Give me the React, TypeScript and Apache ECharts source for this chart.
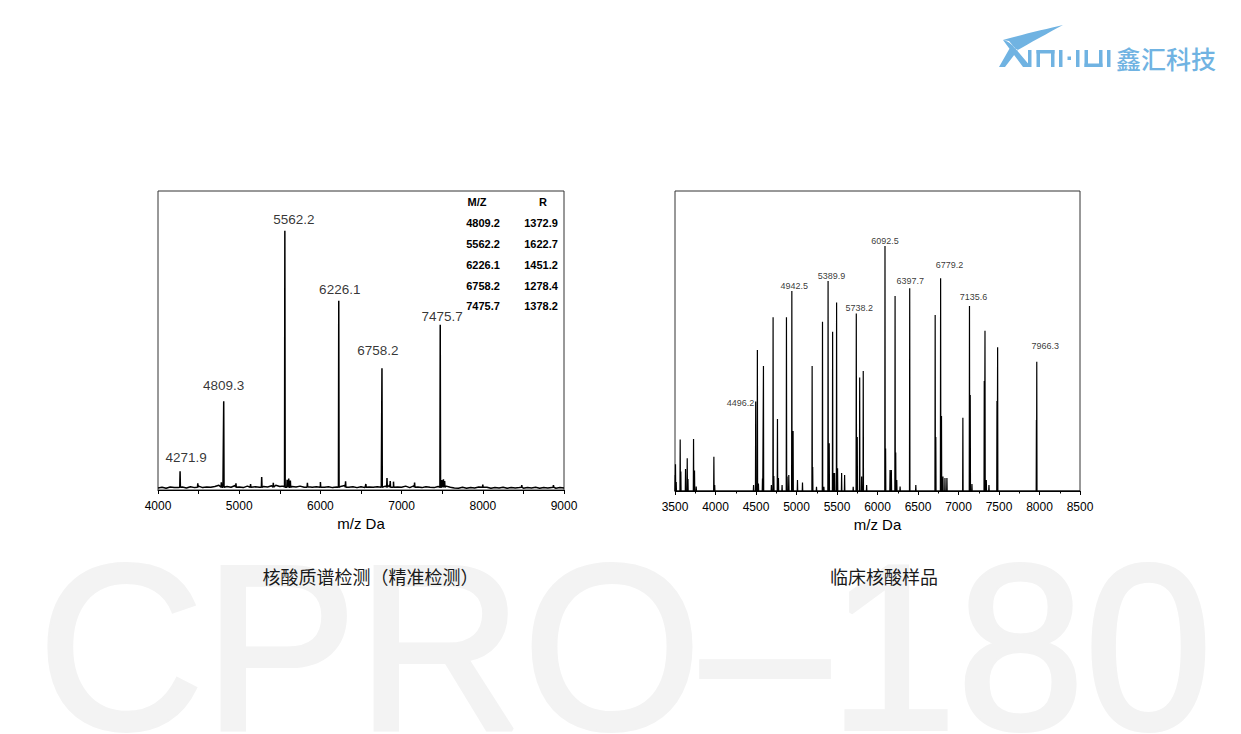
import React, { useEffect, useRef } from "react";
import * as echarts from "echarts";

// ---------- data ----------
// Left spectrum: labelled peaks
const leftPeakMz = [4271.9, 4809.3, 5562.2, 6226.1, 6758.2, 7475.7];
const leftPeakInt = [6.3, 29.7, 86.7, 63.3, 40.7, 55.3];
// Left spectrum: small spikes above noise
const leftMinorMz = [4490, 4780, 4960, 5140, 5277, 5420, 5590, 5610, 5630, 5840, 6000, 6310, 6560, 6820, 6860, 6900, 7160, 7495, 7515, 7530, 8000, 8480, 8870];
const leftMinorInt = [2.2, 2.6, 2.2, 2.0, 4.3, 2.4, 3.4, 3.8, 3.2, 2.4, 2.7, 2.9, 2.0, 4.0, 3.0, 2.8, 2.5, 3.3, 3.6, 3.0, 1.8, 1.6, 1.6];
// Left spectrum: baseline noise, sampled every 50 Da from 4000 to 9000
const leftNoiseStart = 4000;
const leftNoiseStep = 50;
const leftNoise = [
  0.7, 0.9, 0.6, 1.0, 0.8, 0.8, 1.0, 0.7, 1.1, 0.8,
  1.3, 0.8, 1.0, 0.9, 1.2, 1.6, 0.9, 1.2, 0.9, 1.5,
  1.0, 0.8, 1.3, 0.9, 1.1, 0.9, 1.2, 1.0, 1.4, 1.6,
  1.2, 1.3, 1.7, 1.2, 1.0, 1.3, 0.9, 1.1, 0.9, 1.1,
  1.4, 0.9, 1.1, 0.8, 1.0, 1.2, 1.5, 0.9, 1.1, 0.8,
  1.1, 0.8, 1.0, 0.9, 1.1, 0.9, 1.3, 1.6, 1.2, 1.0,
  0.9, 1.3, 0.8, 1.4, 1.0, 0.8, 1.1, 0.9, 0.8, 1.2,
  1.7, 1.3, 0.9, 0.7, 0.6, 0.9, 0.6, 0.8, 0.7, 1.0,
  0.7, 0.9, 0.6, 0.8, 0.7, 0.9, 0.6, 0.8, 0.7, 0.8,
  0.6, 0.8, 0.7, 0.9, 0.6, 0.8, 0.7, 0.8, 0.6, 0.8,
  0.7,
];
// Table in the left chart
const tableHeader = ["M/Z", "R"];
const tableMz = ["4809.2", "5562.2", "6226.1", "6758.2", "7475.7"];
const tableR = ["1372.9", "1622.7", "1451.2", "1278.4", "1378.2"];

// Right spectrum: main peaks
const rightPeakMz = [
  3506, 3564, 3651, 3729, 3980,
  4496.2, 4517, 4592, 4711, 4765, 4876, 4942.5,
  5193, 5321, 5389.9, 5446, 5495, 5738.2, 5780, 5824,
  6092.5, 6217, 6397.7, 6712, 6779.2, 7054, 7135.6, 7327, 7483, 7966.3,
];
const rightPeakInt = [
  8.9, 17.2, 10.9, 17.3, 11.4,
  29.8, 47, 41.7, 57.9, 24, 57.9, 66.7,
  41.7, 56.4, 70, 53.1, 62.8, 59.2, 37.8, 40,
  81.7, 65, 67.6, 58.7, 70.9, 24.4, 61.7, 53.4, 47.9, 43.1,
];
// Right spectrum: small satellite peaks
const rightMinorMz = [
  3502, 3515, 3572, 3630, 3660, 3741, 3762, 3990,
  4470, 4530, 4580, 4690, 4720, 4777, 4822, 4884, 4905, 4958, 5012, 5074,
  5200, 5247, 5338, 5404, 5455, 5470, 5507, 5557, 5594, 5700, 5750, 5804, 5866,
  6100, 6155, 6171, 6225, 6238, 6279, 6473, 6720, 6790, 6808, 6833, 6857,
  7145, 7166, 7318, 7343, 7376, 7475, 7962,
];
const rightMinorInt = [
  5.3, 3, 6.5, 7.3, 4, 6.8, 1.5, 2,
  2, 2.5, 4.2, 2, 5, 4.3, 2, 4.8, 5.3, 20, 3.7, 2.8,
  8, 1.4, 1.4, 15.9, 6, 6, 7.6, 6, 5.3, 1.4, 18, 4.8, 2,
  14.2, 7, 7, 12.8, 3.7, 1.5, 2, 18, 25, 4.8, 4.3, 4.3,
  32, 2.3, 36.7, 3.7, 2, 30, 23.7,
];
const rightLabelMz = [4496.2, 4942.5, 5389.9, 5738.2, 6092.5, 6397.7, 6779.2, 7135.6, 7966.3];

const captionLeft = "核酸质谱检测（精准检测）";
const captionRight = "临床核酸样品";
const axisTitle = "m/z Da";
const watermark = "CPRO–180";
const logoLatin = "XINHUI";
const logoCn = "鑫汇科技";

// ---------- label layout (style, not data) ----------
const leftLabelLayout: Record<string, [number, number]> = {
  "4271.9": [6, 6],
  "4809.3": [0, 8],
  "5562.2": [9, 4],
  "6226.1": [1, 4],
  "6758.2": [-4, 10],
  "7475.7": [2, 1],
};
const rightLabelLayout: Record<string, [number, number]> = {
  "4942.5": [2.4, 0],
  "5389.9": [3.5, 0],
  "5738.2": [3, 0],
  "6092.5": [0, -0.5],
  "6397.7": [0.5, 2],
  "6779.2": [9, 8],
  "7135.6": [4, 4],
  "7966.3": [8.5, 10.5],
};

const LOGO_PATH =
  "M1063 25 C1046 29 1020 35 1003 40 C1010 42 1014 46 1016 51 C1030 43 1048 33 1063 25 Z " +
  "M1011 46 L1018 50 L1005 67 L999 67 Z " +
  "M1003 40 L1009 41 L1031 67 L1023 67 Z";
echarts.graphic.registerShape("xinhuiLogo", echarts.graphic.extendPath(LOGO_PATH, {}));

const FONT = "'Liberation Sans', Arial, Helvetica, sans-serif";
const CJK = "'Noto Sans CJK SC', 'Noto Sans', sans-serif";
const LOGO_BLUE = "#70b3e2";

function spikeLine(
  mz: number[],
  h: number[],
  base: number,
  half: number,
  extra: [number, number][]
): [number, number][] {
  const pts: [number, number][] = [...extra];
  mz.forEach((m, i) => {
    pts.push([m - half, base]);
    pts.push([m, h[i]]);
    pts.push([m + half, base]);
  });
  pts.sort((a, b) => a[0] - b[0]);
  return pts;
}

function buildOption() {
  const noisePts: [number, number][] = leftNoise.map((v, i) => [leftNoiseStart + i * leftNoiseStep, v]);
  const leftData = spikeLine(
    [...leftPeakMz, ...leftMinorMz],
    [...leftPeakInt, ...leftMinorInt],
    0.9,
    4,
    noisePts
  );
  const rightData = spikeLine(
    [...rightPeakMz, ...rightMinorMz],
    [...rightPeakInt, ...rightMinorInt],
    0,
    3,
    [
      [3500, 0],
      [8500, 0],
    ]
  );

  const leftLabels = leftPeakMz.map((m, i) => {
    const key = m.toFixed(1);
    const lay = leftLabelLayout[key] || [0, 4];
    return {
      value: [m, leftPeakInt[i]],
      label: { offset: [lay[0], 0], distance: lay[1] },
    };
  });

  const rightLabels = rightLabelMz.map((m) => {
    const idx = rightPeakMz.indexOf(m);
    const key = m.toFixed(1);
    if (key === "4496.2") {
      return {
        value: [m, rightPeakInt[idx]],
        label: { position: "left", distance: 1, offset: [0, 1] },
      };
    }
    const lay = rightLabelLayout[key] || [0, 0];
    return {
      value: [m, rightPeakInt[idx]],
      label: { position: "top", offset: [lay[0], 0], distance: lay[1] },
    };
  });

  const xAxisCommon = {
    type: "value",
    name: axisTitle,
    nameLocation: "middle",
    nameGap: 26,
    nameTextStyle: { fontSize: 15, color: "#000", fontFamily: FONT, verticalAlign: "top" },
    axisLine: { show: true, onZero: false, lineStyle: { color: "#000", width: 1 } },
    axisTick: { show: true, inside: false, length: 4, lineStyle: { color: "#000", width: 1 } },
    splitLine: { show: false },
  };

  const tableX1 = 483;
  const tableX2 = 541;
  const rowY = [222.5, 243.5, 264.5, 285.5, 306];
  const tableFont = "'Liberation Sans Narrow', 'Arial Narrow', 'Liberation Sans', Arial, sans-serif";
  const tableStyle = { fontSize: 11, fontWeight: "bold", fontFamily: tableFont, fill: "#000", align: "center", verticalAlign: "middle" };

  const graphic: any[] = [
    {
      type: "text",
      x: 625,
      y: 647,
      scaleX: 0.99,
      scaleY: 1.02,
      z: 0,
      silent: true,
      style: {
        text: watermark,
        fontSize: 232,
        fontFamily: FONT,
        fill: "#f3f3f3",
        stroke: "#f3f3f3",
        lineWidth: 4,
        align: "center",
        verticalAlign: "middle",
      },
    },
    {
      type: "text",
      x: 370.5,
      y: 576,
      style: { text: captionLeft, fontSize: 18, fontFamily: CJK, fill: "#1a1a1a", align: "center", verticalAlign: "middle" },
    },
    {
      type: "text",
      x: 884,
      y: 576,
      style: { text: captionRight, fontSize: 18, fontFamily: CJK, fill: "#1a1a1a", align: "center", verticalAlign: "middle" },
    },
    // table
    { type: "text", x: 477, y: 202, style: { ...tableStyle, text: tableHeader[0] } },
    { type: "text", x: 543, y: 202, style: { ...tableStyle, text: tableHeader[1] } },
    ...tableMz.map((t, i) => ({ type: "text", x: tableX1, y: rowY[i], style: { ...tableStyle, text: t } })),
    ...tableR.map((t, i) => ({ type: "text", x: tableX2, y: rowY[i], style: { ...tableStyle, text: t } })),
    // logo
    {
      type: "group",
      name: logoLatin,
      children: [
        { type: "xinhuiLogo", x: 0, y: 0, scaleX: 1, scaleY: 1, style: { fill: LOGO_BLUE } },
        { type: "rect", shape: { x: 1028, y: 50, width: 3.5, height: 17 }, style: { fill: LOGO_BLUE } },
        { type: "rect", shape: { x: 1036.5, y: 50, width: 3.5, height: 17 }, style: { fill: LOGO_BLUE } },
        { type: "rect", shape: { x: 1051, y: 50, width: 3.5, height: 17 }, style: { fill: LOGO_BLUE } },
        { type: "rect", shape: { x: 1036.5, y: 50, width: 18, height: 3.5 }, style: { fill: LOGO_BLUE } },
        { type: "rect", shape: { x: 1059, y: 50, width: 3.5, height: 17 }, style: { fill: LOGO_BLUE } },
        { type: "rect", shape: { x: 1067.5, y: 56.5, width: 3.5, height: 3.5 }, style: { fill: LOGO_BLUE } },
        { type: "rect", shape: { x: 1076, y: 50, width: 3.5, height: 17 }, style: { fill: LOGO_BLUE } },
        { type: "rect", shape: { x: 1084.5, y: 50, width: 3.5, height: 17 }, style: { fill: LOGO_BLUE } },
        { type: "rect", shape: { x: 1099, y: 50, width: 3.5, height: 17 }, style: { fill: LOGO_BLUE } },
        { type: "rect", shape: { x: 1084.5, y: 63.5, width: 18, height: 3.5 }, style: { fill: LOGO_BLUE } },
        { type: "rect", shape: { x: 1107, y: 50, width: 3.5, height: 17 }, style: { fill: LOGO_BLUE } },
        {
          type: "text",
          x: 1116,
          y: 58,
          style: { text: logoCn, fontSize: 25, fontFamily: CJK, fontWeight: 500, fill: LOGO_BLUE, align: "left", verticalAlign: "middle" },
        },
      ],
    },
  ];

  return {
    animation: false,
    backgroundColor: "#ffffff",
    grid: [
      { left: 158, top: 191, width: 406, height: 299, show: true, borderColor: "#333", borderWidth: 1, backgroundColor: "transparent" },
      { left: 675, top: 191, width: 405, height: 300, show: true, borderColor: "#333", borderWidth: 1, backgroundColor: "transparent" },
    ],
    xAxis: [
      {
        ...xAxisCommon,
        gridIndex: 0,
        min: 4000,
        max: 9000,
        interval: 500,
        axisLabel: {
          fontSize: 12,
          color: "#000",
          fontFamily: FONT,
          margin: 10,
          formatter: (v: number) => (v % 1000 === 0 ? String(v) : ""),
        },
      },
      {
        ...xAxisCommon,
        gridIndex: 1,
        min: 3500,
        max: 8500,
        interval: 500,
        minorTick: { show: true, splitNumber: 2, length: 2.5, lineStyle: { color: "#000", width: 1 } },
        minorSplitLine: { show: false },
        axisLabel: { fontSize: 12, color: "#000", fontFamily: FONT, margin: 10, formatter: (v: number) => String(v) },
      },
    ],
    yAxis: [
      { type: "value", gridIndex: 0, min: 0, max: 100, show: false },
      { type: "value", gridIndex: 1, min: 0, max: 100, show: false },
    ],
    series: [
      {
        type: "line",
        xAxisIndex: 0,
        yAxisIndex: 0,
        data: leftData,
        showSymbol: false,
        symbol: "none",
        silent: true,
        lineStyle: { color: "#000", width: 1.5 },
      },
      {
        type: "line",
        xAxisIndex: 1,
        yAxisIndex: 1,
        data: rightData,
        showSymbol: false,
        symbol: "none",
        silent: true,
        lineStyle: { color: "#000", width: 1.2 },
      },
      {
        type: "scatter",
        xAxisIndex: 0,
        yAxisIndex: 0,
        symbolSize: 1,
        silent: true,
        itemStyle: { color: "rgba(0,0,0,0)" },
        data: leftLabels,
        label: {
          show: true,
          position: "top",
          fontSize: 13.5,
          color: "#000",
          fontFamily: FONT,
          formatter: (p: any) => Number(p.value[0]).toFixed(1),
        },
      },
      {
        type: "scatter",
        xAxisIndex: 1,
        yAxisIndex: 1,
        symbolSize: 1,
        silent: true,
        itemStyle: { color: "rgba(0,0,0,0)" },
        data: rightLabels,
        label: {
          show: true,
          position: "top",
          fontSize: 9,
          color: "#000",
          fontFamily: FONT,
          formatter: (p: any) => Number(p.value[0]).toFixed(1),
        },
      },
    ],
    graphic,
  };
}

export default function App() {
  const ref = useRef<HTMLDivElement>(null);
  useEffect(() => {
    if (!ref.current) return;
    const chart = echarts.init(ref.current, undefined, { renderer: "svg" });
    chart.setOption(buildOption() as any);
    return () => {
      chart.dispose();
    };
  }, []);
  return (
    <div
      ref={ref}
      style={{ position: "absolute", left: 0, top: 0, width: 1241, height: 734, background: "#fff" }}
    />
  );
}
